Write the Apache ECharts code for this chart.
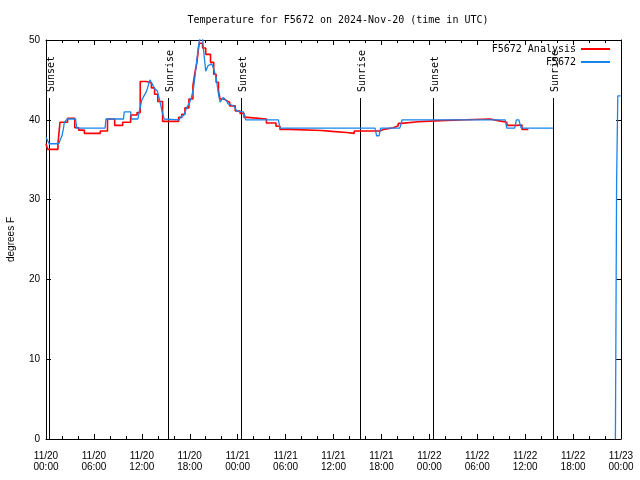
<!DOCTYPE html>
<html>
<head>
<meta charset="utf-8">
<script src="https://cdn.jsdelivr.net/npm/echarts@6/dist/echarts.min.js"></script>
<style>html,body{margin:0;padding:0;background:#fff;}#c{width:640px;height:480px;}</style>
</head>
<body>
<div id="c"></div>
<script>
// hours since 2024-11-20 00:00 UTC
var xTickLabels = ['11/20\n00:00','11/20\n06:00','11/20\n12:00','11/20\n18:00','11/21\n00:00','11/21\n06:00','11/21\n12:00','11/21\n18:00','11/22\n00:00','11/22\n06:00','11/22\n12:00','11/22\n18:00','11/23\n00:00'];
var yTicks = [0, 10, 20, 30, 40, 50];

var analysisHours = [0.0,0.2,1.5,1.75,2.7,3.6,4.1,4.8,6.8,7.7,8.6,9.6,10.6,11.4,11.8,12.6,13.2,13.6,14.0,14.6,16.6,17.0,17.4,17.9,18.4,18.65,18.9,19.1,19.2,19.6,20.0,20.6,21.0,21.3,21.6,21.8,22.3,22.6,23.0,23.7,24.3,24.8,25.2,27.6,28.8,29.3,30.5,34.5,35.8,37.65,38.6,41.8,42.3,43.5,44.1,44.5,46.6,49.5,52.6,55.6,56.6,57.7,58.9,59.6,60.4];
var analysisTemps = [37.0,36.3,37.0,39.7,40.2,39.0,38.7,38.3,38.6,40.1,39.3,39.7,40.6,40.9,44.8,44.6,44.0,43.2,42.3,39.8,40.3,40.7,41.5,42.6,44.3,45.9,47.2,49.0,49.6,49.0,48.2,47.2,45.7,44.7,43.6,42.6,42.4,42.2,41.75,41.1,40.8,40.3,40.1,39.6,39.2,38.8,38.65,38.55,38.4,38.3,38.6,38.8,39.0,39.25,39.55,39.75,39.9,40.0,40.1,39.9,39.7,39.3,39.35,38.8,38.8];

var obsHours = [0.0,0.1,0.4,1.6,1.75,2.0,2.2,2.3,2.67,3.7,3.85,7.4,7.5,9.7,9.8,10.6,10.7,11.5,11.65,12.0,12.27,12.6,13.0,13.3,13.6,13.95,14.2,14.5,14.8,14.9,16.7,16.8,17.3,17.6,18.0,18.2,18.45,18.65,18.9,19.1,19.3,19.6,19.75,20.0,20.3,20.75,21.0,21.3,21.6,21.8,22.0,22.2,22.4,22.6,22.8,23.5,23.9,24.7,24.9,25.0,29.1,29.3,41.2,41.4,41.7,41.9,44.3,44.6,57.5,57.7,58.7,58.9,59.2,59.5,63.5,67.0,71.3,71.35,71.45,71.6,71.95];
var obsTemps = [37.8,37.8,37.0,37.0,37.4,38.0,39.0,39.7,40.1,40.1,38.95,38.95,40.1,40.1,41.0,41.0,40.1,40.1,40.9,42.5,43.0,43.6,45.0,44.5,43.9,43.6,42.6,41.2,40.1,40.0,40.0,40.3,40.6,41.5,42.2,42.8,43.8,45.4,47.6,49.25,50.3,50.3,48.5,46.1,46.8,47.0,46.4,45.3,43.2,42.2,42.2,42.8,43.0,42.4,42.0,41.75,41.1,41.0,40.5,40.0,40.0,38.95,38.95,38.0,38.0,38.95,38.95,40.0,40.0,38.95,38.95,40.0,40.0,38.95,38.95,null,0.0,10.7,32.2,43.0,43.0];

var sunHours = [0.38, 15.27, 24.4, 39.35, 48.4, 63.45];
var sunLabels = ['Sunset','Sunrise','Sunset','Sunrise','Sunset','Sunrise'];

function pairs(xs, ys){ return xs.map(function(x,i){ return [x, ys[i]]; }); }

var mono = '"DejaVu Sans Mono", "Liberation Mono", monospace';
var sans = '"Liberation Sans", Arial, sans-serif';

var chart = echarts.init(document.getElementById('c'), null, {renderer:'canvas'});
var axisBase = {
  type: 'value', min: 0, max: 72, interval: 6,
  axisLine: {show: true, onZero: false, lineStyle: {color: '#000', width: 1}},
  axisTick: {show: true, inside: true, length: 5, lineStyle: {color: '#000'}},
  minorTick: {show: true, splitNumber: 3, length: 3, lineStyle: {color: '#000'}},
  splitLine: {show: false}
};
var option = {
  animation: false,
  backgroundColor: '#fff',
  title: {
    text: 'Temperature for F5672 on 2024-Nov-20 (time in UTC)',
    left: 333, top: 10, textAlign: 'center',
    textStyle: {fontFamily: mono, fontSize: 10, fontWeight: 'normal', color: '#000'}
  },
  legend: [
    {data: ['F5672 Analysis'], right: 30, top: 44, padding: 0, align: 'right', icon: 'rect', itemWidth: 29, itemHeight: 2,
     textStyle: {fontFamily: mono, fontSize: 10, color: '#000'}},
    {data: ['F5672'], right: 30, top: 57, padding: 0, align: 'right', icon: 'rect', itemWidth: 29, itemHeight: 2,
     textStyle: {fontFamily: mono, fontSize: 10, color: '#000'}}
  ],
  grid: {left: 46, top: 40, right: 19, bottom: 41, containLabel: false, outerBoundsMode: 'none'},
  xAxis: [
    Object.assign({}, axisBase, {position: 'bottom',
      axisLabel: {show: true, margin: 12, lineHeight: 11, fontFamily: sans, fontSize: 10, color: '#000',
        formatter: function(v){ return xTickLabels[Math.round(v/6)]; }}}),
    Object.assign({}, axisBase, {position: 'top', axisLabel: {show: false}})
  ],
  yAxis: [
    {type: 'value', min: 0, max: 50, interval: 10, position: 'left',
     name: 'degrees F', nameLocation: 'middle', nameGap: 30,
     nameTextStyle: {fontFamily: sans, fontSize: 10, color: '#000'},
     axisLine: {show: true, onZero: false, lineStyle: {color: '#000'}},
     axisTick: {show: true, inside: true, length: 5, lineStyle: {color: '#000'}},
     axisLabel: {margin: 6, fontFamily: sans, fontSize: 10, color: '#000',
       formatter: function(v){ return yTicks.indexOf(v) >= 0 ? String(v) : ''; }},
     splitLine: {show: false}},
    {type: 'value', min: 0, max: 50, interval: 10, position: 'right',
     axisLine: {show: true, onZero: false, lineStyle: {color: '#000'}},
     axisTick: {show: true, inside: true, length: 5, lineStyle: {color: '#000'}},
     axisLabel: {show: false}, splitLine: {show: false}}
  ],
  series: [
    {name: 'F5672 Analysis', type: 'line', step: 'end', data: pairs(analysisHours, analysisTemps),
     showSymbol: false, symbol: 'none', color: '#ff0000', lineStyle: {color: '#ff0000', width: 1.6}, clip: true},
    {name: 'F5672', type: 'line', data: pairs(obsHours, obsTemps), connectNulls: false,
     showSymbol: false, symbol: 'none', color: '#1a84ee', lineStyle: {color: '#1a84ee', width: 1.3}, clip: true},
    {name: 'sun', type: 'custom', data: sunHours.map(function(t){ return [t, 0]; }),
     encode: {x: 0, y: 1}, silent: true, z: 3,
     renderItem: function(params, api){
       var idx = params.dataIndex;
       var b = api.coord([api.value(0), 0]);
       var t = api.coord([api.value(0), 50]);
       var x = Math.round(b[0]) + 0.5;
       return {type: 'group', children: [
         {type: 'line', shape: {x1: x, y1: t[1] + 58, x2: x, y2: b[1]}, style: {stroke: '#000', lineWidth: 1}},
         {type: 'text', x: x + 2, y: t[1] + 52, rotation: Math.PI/2,
          style: {text: sunLabels[idx], font: '10px ' + mono, fill: '#000', align: 'left', verticalAlign: 'middle'}}
       ]};
     }}
  ]
};
chart.setOption(option);
</script>
</body>
</html>
